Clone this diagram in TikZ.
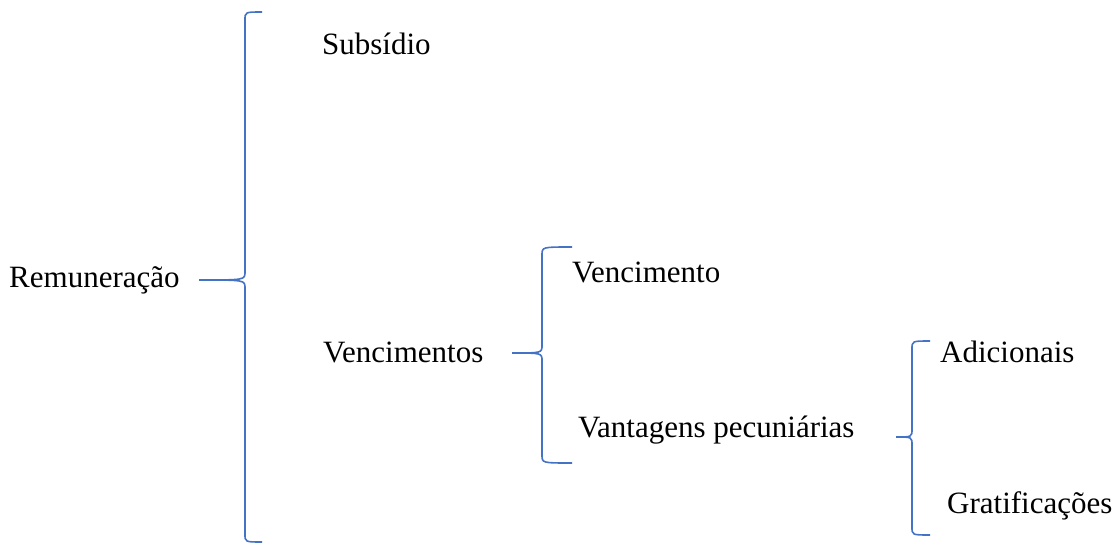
\documentclass[tikz,border=0pt]{standalone}
\usepackage{fontspec}
\setmainfont{Liberation Serif}
\definecolor{braceblue}{RGB}{68,114,196}
% brace: tip x, tip y, stem x, end x, top y, bottom y
\newcommand{\bracket}[6]{%
	\draw[braceblue, line width=1.6pt] (#4,#5) .. controls (#3,#5) .. (#3,#5+8)
	  -- (#3,#2-8) .. controls (#3,#2) .. (#1,#2)
	  .. controls (#3,#2) .. (#3,#2+8) -- (#3,#6-8) .. controls (#3,#6) .. (#4,#6);}
\begin{document}
\begin{tikzpicture}[x=1pt, y=-1pt, lbl/.style={anchor=base west, inner sep=0pt, font=\fontsize{31}{36}\selectfont}]
	\useasboundingbox (0,0) rectangle (1119,546);
	\node[lbl] (rem) at (9,287) {Remuneração};
	\node[lbl] (sub) at (322,54) {Subsídio};
	\node[lbl] (vtos) at (323,362) {Vencimentos};
	\node[lbl] (vto) at (572,282) {Vencimento};
	\node[lbl] (vant) at (578,437) {Vantagens pecuniárias};
	\node[lbl] (adic) at (940,362) {Adicionais};
	\node[lbl] (grat) at (947,513) {Gratificações};
	
	\bracket{199}{280}{245}{262}{12}{542}
	\bracket{512}{353}{542}{572}{247}{463}
	\bracket{896}{437}{912}{930}{341}{535}
\end{tikzpicture}
\end{document}
